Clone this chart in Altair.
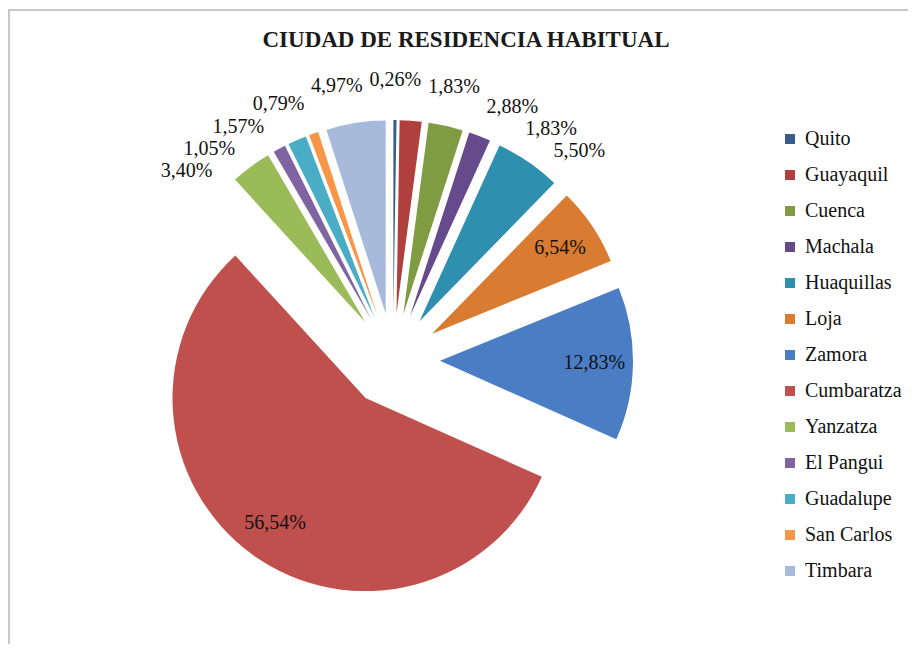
import math
import numpy as np
import pandas as pd
import altair as alt

# ---------------- data ----------------
title_text = "CIUDAD DE RESIDENCIA HABITUAL"
cities = ["Quito", "Guayaquil", "Cuenca", "Machala", "Huaquillas", "Loja", "Zamora",
          "Cumbaratza", "Yanzatza", "El Pangui", "Guadalupe", "San Carlos", "Timbara"]
percent = [0.26, 1.83, 2.88, 1.83, 5.50, 6.54, 12.83, 56.54, 3.40, 1.05, 1.57, 0.79, 4.97]
colors = ["#385D8A", "#B0403D", "#7F9C42", "#654A8C", "#2F8FAE", "#D97B30", "#4A7DC4",
          "#C0504D", "#9BBB59", "#8064A2", "#4BACC6", "#F79646", "#A7BADB"]

# ---------------- geometry / style ----------------
W, H = 900, 636
CX, CY = 385, 352        # pie centre (view px)
R = 193                  # slice radius
EXPLODE = 47             # explosion distance
LABEL_R = 280            # outside label distance from centre
INSIDE_F = 0.8           # inside label fraction of radius
LW, LH = 58, 22          # label box for overlap avoidance

vals = np.array(percent, dtype=float)
total = vals.sum()
cum = np.cumsum(vals)
start = 2 * np.pi * (cum - vals) / total
end = 2 * np.pi * cum / total
mid = (start + end) / 2
cx = CX + EXPLODE * np.sin(mid)
cy = CY - EXPLODE * np.cos(mid)

labels = [f"{p:.2f}".replace(".", ",") + "%" for p in percent]
inside = vals > 6

lx = np.zeros(len(vals))
ly = np.zeros(len(vals))
for i in range(len(vals)):
    if inside[i]:
        lx[i] = cx[i] + INSIDE_F * R * math.sin(mid[i])
        ly[i] = cy[i] - INSIDE_F * R * math.cos(mid[i])

# simple angular repulsion for outside labels
out_idx = [i for i in range(len(vals)) if not inside[i]]
ang = {i: (mid[i] if mid[i] <= math.pi else mid[i] - 2 * math.pi) for i in out_idx}
order = sorted(out_idx, key=lambda i: ang[i])
a = [ang[i] for i in order]


def pos(t):
    return CX + LABEL_R * math.sin(t), CY - LABEL_R * math.cos(t)


for _ in range(20000):
    moved = False
    for k in range(len(a) - 1):
        x1, y1 = pos(a[k])
        x2, y2 = pos(a[k + 1])
        if abs(x1 - x2) < LW and abs(y1 - y2) < LH:
            a[k] -= 0.002
            a[k + 1] += 0.002
            moved = True
    if not moved:
        break
for i, t in zip(order, a):
    lx[i], ly[i] = pos(t)

df = pd.DataFrame({
    "city": cities, "pct": percent, "label": labels,
    "start": start, "end": end, "cx": cx, "cy": cy, "lx": lx, "ly": ly,
})

arcs = alt.Chart(df).mark_arc(outerRadius=R).encode(
    x=alt.X("cx:Q", scale=None, axis=None),
    y=alt.Y("cy:Q", scale=None, axis=None),
    theta=alt.Theta("start:Q", scale=None, stack=False),
    theta2="end:Q",
    color=alt.Color(
        "city:N", sort=cities,
        scale=alt.Scale(domain=cities, range=colors),
        legend=alt.Legend(
            title=None, orient="none", legendX=772, legendY=121,
            symbolType="square", symbolSize=100, symbolStrokeWidth=0,
            labelFont="Liberation Serif", labelFontSize=20, labelColor="#111111",
            labelOffset=5, rowPadding=16, labelLimit=300,
        ),
    ),
)

text = alt.Chart(df).mark_text(
    font="Liberation Serif", fontSize=20, color="#111111", baseline="middle", align="center"
).encode(
    x=alt.X("lx:Q", scale=None, axis=None),
    y=alt.Y("ly:Q", scale=None, axis=None),
    text="label:N",
)

ttl = alt.Chart(pd.DataFrame({"t": [title_text]})).mark_text(
    font="Liberation Serif", fontSize=23, fontWeight="bold", color="#1a1a1a",
    baseline="middle", align="center"
).encode(text="t:N", x=alt.value(458), y=alt.value(32))

border = alt.Chart(pd.DataFrame({"b": [0]})).mark_rect(
    fillOpacity=0, stroke="#C8C8C8", strokeWidth=2
).encode(x=alt.value(1), y=alt.value(2), x2=alt.value(W + 20), y2=alt.value(H + 20))

chart = alt.layer(border, arcs, text, ttl).properties(
    width=W, height=H, autosize="none", padding=0, background="white"
).configure_view(strokeWidth=0)

chart.save("out.html", embed_options={"renderer": "svg", "actions": False})
